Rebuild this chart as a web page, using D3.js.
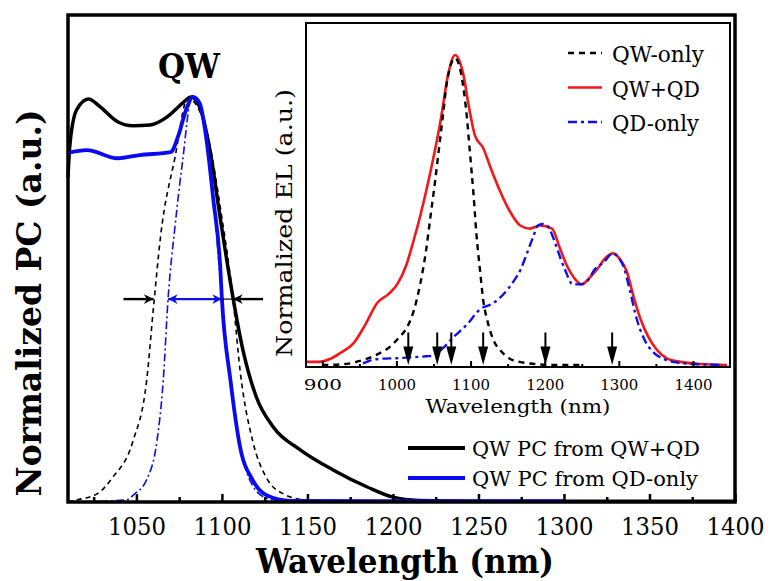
<!DOCTYPE html>
<html>
<head>
<meta charset="utf-8">
<script src="https://cdn.jsdelivr.net/npm/d3@7"></script>
<style>
  body { margin: 0; background: #fff; }
  svg { display: block; }
  text { font-family: 'DejaVu Serif', serif; fill: #000; }
</style>
</head>
<body>
<div id="chart"></div>
<script>
// main plot: normalized photocurrent, [wavelength nm, value]
var pcQwQd = [[1010, 0.80], [1011, 0.875], [1015, 0.966], [1022, 0.993], [1029, 0.973], [1039, 0.937], [1048, 0.927],
    [1058, 0.929], [1068, 0.949], [1077, 0.983], [1082, 0.998], [1087, 0.973], [1093, 0.867], [1099, 0.70],
    [1105, 0.54], [1112, 0.38], [1120, 0.26], [1130, 0.185], [1146, 0.128], [1165, 0.079], [1185, 0.037],
    [1200, 0.012], [1215, 0.004], [1250, 0.002], [1300, 0.002], [1350, 0.002], [1400, 0.002]];
var pcQdOnly = [[1010, 0.86], [1021, 0.867], [1039, 0.847], [1052, 0.855], [1070, 0.862], [1075, 0.909],
    [1079, 0.966], [1083, 0.998], [1087, 0.983], [1091, 0.892], [1095, 0.744], [1099, 0.58], [1100, 0.50],
    [1105, 0.30], [1110.6, 0.136], [1118, 0.054], [1126, 0.017], [1140, 0.003], [1200, 0.002], [1300, 0.002]];
// EL spectra overlaid on main plot
var elQwMain = [[1010, 0.0], [1015, 0.005], [1027, 0.02], [1036, 0.06], [1048, 0.15], [1056, 0.30], [1060, 0.48],
    [1064, 0.65], [1072.6, 0.85], [1080, 0.995], [1090, 0.93], [1100, 0.70], [1106.5, 0.50], [1110.6, 0.325],
    [1118, 0.15], [1126, 0.06], [1136, 0.02], [1150, 0.004], [1170, 0.0]];
var elQdMain = [[1010, 0.0], [1044, 0.005], [1049, 0.02], [1056, 0.055], [1062, 0.15], [1065.7, 0.30],
    [1068.5, 0.50], [1072.6, 0.68], [1077, 0.84], [1082.5, 1.0], [1090, 0.93], [1096, 0.70], [1100, 0.50],
    [1104, 0.33], [1110, 0.15], [1118, 0.04], [1126, 0.01], [1140, 0.0]];
var fwhmBlack = [1060, 1106.5];
var fwhmBlue = [1068.5, 1100];
var mainTicks = [1050, 1100, 1150, 1200, 1250, 1300, 1350, 1400];

// inset: normalized EL
var elQwQd = [[879, 0.01], [895, 0.01], [911, 0.02], [925, 0.04], [942, 0.07], [958, 0.13], [974, 0.20], [990, 0.23],
    [1001, 0.26], [1013, 0.32], [1023, 0.40], [1032, 0.48], [1041, 0.57], [1050, 0.67], [1059, 0.78], [1070, 0.94],
    [1079, 1.0], [1090, 0.94], [1098, 0.83], [1106, 0.74], [1117, 0.70], [1128, 0.63], [1140, 0.56], [1152, 0.50],
    [1167, 0.45], [1180, 0.44], [1194, 0.45], [1210, 0.44], [1220, 0.38], [1230, 0.32], [1240, 0.28], [1250, 0.26],
    [1260, 0.28], [1271, 0.31], [1282, 0.345], [1292, 0.36], [1302, 0.34], [1311, 0.30], [1320, 0.22],
    [1329, 0.15], [1340, 0.09], [1351, 0.05], [1366, 0.02], [1383, 0.01], [1410, 0.003], [1446, 0.0]];
var elQwOnly = [[900, 0.0], [930, 0.003], [955, 0.016], [975, 0.035], [992, 0.06], [1004, 0.09], [1014, 0.12],
    [1024, 0.18], [1032, 0.26], [1040, 0.37], [1046, 0.48], [1052, 0.59], [1057, 0.69], [1063, 0.81],
    [1068, 0.91], [1079, 0.99], [1090, 0.90], [1095, 0.80], [1099, 0.69], [1104, 0.55], [1108, 0.42],
    [1113, 0.30], [1117, 0.21], [1123, 0.14], [1131, 0.08], [1141, 0.045], [1153, 0.02], [1166, 0.01],
    [1180, 0.005], [1210, 0.0], [1250, 0.0]];
var elQdOnly = [[955, 0.005], [965, 0.015], [978, 0.02], [1000, 0.022], [1023, 0.025], [1040, 0.028], [1050, 0.03],
    [1063, 0.055], [1077, 0.09], [1095, 0.13], [1113, 0.18], [1131, 0.20], [1145, 0.23], [1158, 0.27],
    [1168, 0.31], [1176, 0.36], [1184, 0.41], [1191, 0.45], [1197, 0.455], [1203, 0.45], [1210, 0.42],
    [1216, 0.38], [1227, 0.31], [1238, 0.26], [1247, 0.26], [1257, 0.27], [1268, 0.31], [1279, 0.33],
    [1292, 0.36], [1300, 0.345], [1306, 0.32], [1315, 0.24], [1324, 0.15], [1335, 0.08], [1347, 0.04],
    [1360, 0.02], [1373, 0.01], [1400, 0.003], [1440, 0.0]];
var insetArrows = [1016, 1055, 1074, 1117, 1201, 1291];
var insetTicks = [900, 1000, 1100, 1200, 1300, 1400];

var width = 771, height = 581;
var frame = { left: 68, top: 15, right: 735, bottom: 502 };
var inset = { left: 306, top: 23, right: 730, bottom: 367 };

var svg = d3.select('#chart').append('svg')
    .attr('width', width)
    .attr('height', height);

// squeeze/stretch a text to a given length (glyphs in the figure are narrower than DejaVu)
function fit(sel, len) {
    sel.attr('textLength', len).attr('lengthAdjust', 'spacingAndGlyphs');
}

// ---- main plot ----
var x = d3.scaleLinear().domain([1010, 1400]).range([frame.left, frame.right]);
var y = d3.scaleLinear().domain([0, 1.2]).range([frame.bottom, frame.top]);

var line = d3.line()
    .x(d => x(d[0]))
    .y(d => y(d[1]))
    .curve(d3.curveMonotoneX);

svg.append('path').datum(elQwMain)
    .attr('d', line).attr('fill', 'none')
    .attr('stroke', '#000').attr('stroke-width', 1.6)
    .attr('stroke-dasharray', '5,4');

svg.append('path').datum(elQdMain)
    .attr('d', line).attr('fill', 'none')
    .attr('stroke', '#1010e0').attr('stroke-width', 1.6)
    .attr('stroke-dasharray', '8,3,2,3');

svg.append('path').datum(pcQwQd)
    .attr('d', line).attr('fill', 'none')
    .attr('stroke', '#000').attr('stroke-width', 3.5);

svg.append('path').datum(pcQdOnly)
    .attr('d', line).attr('fill', 'none')
    .attr('stroke', '#0a0af0').attr('stroke-width', 3.8);

// FWHM arrows
var defs = svg.append('defs');
function addMarker(id, color) {
    defs.append('marker')
        .attr('id', id)
        .attr('viewBox', '0 0 10 10')
        .attr('refX', 10).attr('refY', 5)
        .attr('markerWidth', 5).attr('markerHeight', 4)
        .attr('markerUnits', 'strokeWidth')
        .attr('orient', 'auto-start-reverse')
        .append('path')
        .attr('d', 'M0,0 L10,5 L0,10 L3,5 Z')
        .attr('fill', color);
}
addMarker('headBlack', '#000');
addMarker('headBlue', '#1010e0');

var yHalf = y(0.5);
svg.append('line')
    .attr('x1', x(fwhmBlack[0]) - 30).attr('x2', x(fwhmBlack[0]))
    .attr('y1', yHalf).attr('y2', yHalf)
    .attr('stroke', '#000').attr('stroke-width', 2.4)
    .attr('marker-end', 'url(#headBlack)');
svg.append('line')
    .attr('x1', x(fwhmBlack[1]) + 30).attr('x2', x(fwhmBlack[1]))
    .attr('y1', yHalf).attr('y2', yHalf)
    .attr('stroke', '#000').attr('stroke-width', 2.4)
    .attr('marker-end', 'url(#headBlack)');
svg.append('line')
    .attr('x1', x(fwhmBlue[1])).attr('x2', x(fwhmBlack[1]))
    .attr('y1', yHalf).attr('y2', yHalf)
    .attr('stroke', '#000').attr('stroke-width', 1.2);
svg.append('line')
    .attr('x1', x(fwhmBlue[0])).attr('x2', x(fwhmBlue[1]))
    .attr('y1', yHalf).attr('y2', yHalf)
    .attr('stroke', '#1010e0').attr('stroke-width', 2.4)
    .attr('marker-start', 'url(#headBlue)')
    .attr('marker-end', 'url(#headBlue)');

// frame
svg.append('rect')
    .attr('x', frame.left).attr('y', frame.top)
    .attr('width', frame.right - frame.left)
    .attr('height', frame.bottom - frame.top)
    .attr('fill', 'none').attr('stroke', '#000').attr('stroke-width', 3.5);

// x axis (ticks inward)
svg.append('g')
    .attr('transform', `translate(0,${frame.bottom})`)
    .call(d3.axisTop(x).tickValues(d3.range(1025, 1400, 50)).tickSize(5).tickFormat(''))
    .call(g => g.select('.domain').remove())
    .call(g => g.selectAll('line').attr('stroke-width', 2.5));
svg.append('g')
    .attr('transform', `translate(0,${frame.bottom})`)
    .call(d3.axisTop(x).tickValues(mainTicks).tickSize(8).tickFormat(''))
    .call(g => g.select('.domain').remove())
    .call(g => g.selectAll('line').attr('stroke-width', 2.5));
svg.append('g')
    .attr('transform', `translate(0,${frame.bottom})`)
    .call(d3.axisBottom(x).tickValues(mainTicks).tickSize(0).tickPadding(0).tickFormat(d3.format('d')))
    .call(g => g.select('.domain').remove())
    .call(g => g.selectAll('text')
        .attr('dy', null).attr('y', 33)
        .style('font-family', 'DejaVu Serif')
        .style('font-size', '25px')
        .call(fit, 58));

svg.append('text')
    .attr('x', 405)
    .attr('y', 573)
    .attr('text-anchor', 'middle')
    .style('font-size', '33px')
    .style('font-weight', 'bold')
    .text('Wavelength (nm)')
    .call(fit, 298);

svg.append('text')
    .attr('transform', 'translate(41, 303) rotate(-90)')
    .attr('text-anchor', 'middle')
    .style('font-size', '34px')
    .style('font-weight', 'bold')
    .text('Normalized PC (a.u.)')
    .call(fit, 387);

svg.append('text')
    .attr('x', 189).attr('y', 78)
    .attr('text-anchor', 'middle')
    .style('font-size', '33px')
    .style('font-weight', 'bold')
    .text('QW')
    .call(fit, 62);

// main legend
var mainLegend = [
    { label: 'QW PC from QW+QD', color: '#000', len: 228 },
    { label: 'QW PC from QD-only', color: '#0a0af0', len: 226 }
];
var ml = svg.append('g').attr('transform', 'translate(408, 448)');
mainLegend.forEach((d, i) => {
    ml.append('line')
        .attr('x1', 0).attr('x2', 57)
        .attr('y1', i * 30).attr('y2', i * 30)
        .attr('stroke', d.color).attr('stroke-width', 4);
    ml.append('text')
        .attr('x', 64).attr('y', i * 30 + 8)
        .style('font-size', '21px')
        .text(d.label)
        .call(fit, d.len);
});

// ---- inset ----
var xi = d3.scaleLinear().domain([878, 1450]).range([inset.left, inset.right]);
var yi = d3.scaleLinear().domain([0, 1]).range([inset.bottom - 2, 55]);

svg.append('rect')
    .attr('x', inset.left).attr('y', inset.top)
    .attr('width', inset.right - inset.left)
    .attr('height', inset.bottom - inset.top)
    .attr('fill', '#fff');

var lineI = d3.line()
    .x(d => xi(d[0]))
    .y(d => yi(d[1]))
    .curve(d3.curveMonotoneX);

svg.append('path').datum(elQwQd)
    .attr('d', lineI).attr('fill', 'none')
    .attr('stroke', '#f01818').attr('stroke-width', 2.6);
svg.append('path').datum(elQwOnly)
    .attr('d', lineI).attr('fill', 'none')
    .attr('stroke', '#000').attr('stroke-width', 2.4)
    .attr('stroke-dasharray', '6,5');
svg.append('path').datum(elQdOnly)
    .attr('d', lineI).attr('fill', 'none')
    .attr('stroke', '#1010e0').attr('stroke-width', 2.4)
    .attr('stroke-dasharray', '9,4,3,4');

// inset down arrows
var arr = svg.append('g');
insetArrows.forEach(w => {
    var ax = xi(w);
    arr.append('line')
        .attr('x1', ax).attr('x2', ax)
        .attr('y1', yi(0.105)).attr('y2', yi(0.03))
        .attr('stroke', '#000').attr('stroke-width', 2);
    arr.append('path')
        .attr('d', `M${ax - 5},${yi(0.06)} L${ax + 5},${yi(0.06)} L${ax},${yi(0.0)} Z`)
        .attr('fill', '#000');
});

svg.append('rect')
    .attr('x', inset.left).attr('y', inset.top)
    .attr('width', inset.right - inset.left)
    .attr('height', inset.bottom - inset.top)
    .attr('fill', 'none').attr('stroke', '#000').attr('stroke-width', 2);

svg.append('g')
    .attr('transform', `translate(0,${inset.bottom})`)
    .call(d3.axisTop(xi).tickValues(d3.range(950, 1450, 100)).tickSize(3).tickFormat(''))
    .call(g => g.select('.domain').remove())
    .call(g => g.selectAll('line').attr('stroke-width', 2));
svg.append('g')
    .attr('transform', `translate(0,${inset.bottom})`)
    .call(d3.axisTop(xi).tickValues(insetTicks).tickSize(6).tickFormat(''))
    .call(g => g.select('.domain').remove())
    .call(g => g.selectAll('line').attr('stroke-width', 2));
svg.append('g')
    .attr('transform', `translate(0,${inset.bottom})`)
    .call(d3.axisBottom(xi).tickValues(insetTicks).tickSize(0).tickPadding(0).tickFormat(d3.format('d')))
    .call(g => g.select('.domain').remove())
    .call(g => g.selectAll('text')
        .attr('dy', null).attr('y', 23)
        .style('font-family', 'DejaVu Serif')
        .style('font-size', '15px')
        .call(fit, 38));

svg.append('text')
    .attr('x', 518).attr('y', 413)
    .attr('text-anchor', 'middle')
    .style('font-size', '19px')
    .text('Wavelength (nm)')
    .call(fit, 185);

svg.append('text')
    .attr('transform', 'translate(292, 223) rotate(-90)')
    .attr('text-anchor', 'middle')
    .style('font-size', '23px')
    .text('Normalized EL (a.u.)')
    .call(fit, 268);

// inset legend
var insetLegend = [
    { label: 'QW-only', color: '#000', dash: '6,5', len: 92 },
    { label: 'QW+QD', color: '#f01818', dash: null, len: 88 },
    { label: 'QD-only', color: '#1010e0', dash: '9,4,3,4', len: 87 }
];
var il = svg.append('g').attr('transform', 'translate(568, 53)');
insetLegend.forEach((d, i) => {
    il.append('line')
        .attr('x1', 0).attr('x2', 34)
        .attr('y1', i * 34.5).attr('y2', i * 34.5)
        .attr('stroke', d.color).attr('stroke-width', 2.6)
        .attr('stroke-dasharray', d.dash);
    il.append('text')
        .attr('x', 44).attr('y', i * 34.5 + 9)
        .style('font-size', '22px')
        .text(d.label)
        .call(fit, d.len);
});
</script>
</body>
</html>
